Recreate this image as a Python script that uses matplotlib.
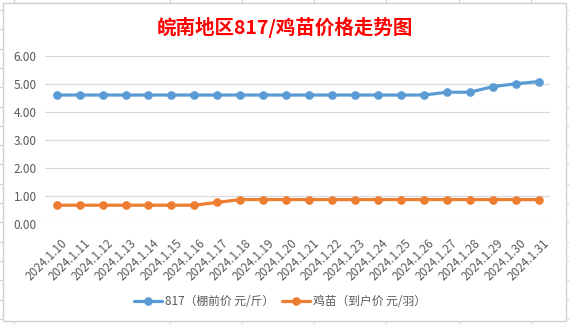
import matplotlib.pyplot as plt
import matplotlib.transforms as mtransforms
from matplotlib.patches import Rectangle
import numpy as np

plt.rcParams['font.family'] = ['Noto Sans CJK SC', 'DejaVu Sans']

W, H, DPI = 569, 324, 100

dates = ["2024.1.%d" % d for d in range(10, 32)]
price_817 = [4.6] * 17 + [4.7, 4.7, 4.9, 5.0, 5.08]
price_chick = [0.68] * 7 + [0.78] + [0.88] * 14

title = "皖南地区817/鸡苗价格走势图"
label_817 = "817（棚前价 元/斤）"
label_chick = "鸡苗（到户价 元/羽）"

BLUE = "#5B9BD5"
ORANGE = "#ED7D31"
TEXT = "#595959"
GRID = "#D9D9D9"

fig = plt.figure(figsize=(W / DPI, H / DPI), dpi=DPI)

# spreadsheet cells behind the chart, in pixel coords
bg = fig.add_axes([0, 0, 1, 1], zorder=0)
bg.set_xlim(0, W)
bg.set_ylim(H, 0)
bg.axis("off")
for y in np.arange(10, H, 19.3):
    bg.axhline(y, color="#D4D4D4", lw=0.8)
for x in [14.5, 170, 242, 314, 386, 459, 531]:
    bg.axvline(x, color="#D4D4D4", lw=0.8)
bg.add_patch(Rectangle((3, 3), 563, 318, facecolor="white",
                       edgecolor="#D0D0D0", lw=1.0, zorder=3))

ax = fig.add_axes([45.2 / W, 1 - 224.3 / H, 505 / W, (224.3 - 55.7) / H], zorder=2)
ax.patch.set_alpha(0)
x = np.arange(len(dates))
ax.plot(x, price_817, color=BLUE, lw=2.3, marker="o", ms=5.2, label=label_817,
        solid_capstyle="round")
ax.plot(x, price_chick, color=ORANGE, lw=2.3, marker="o", ms=5.2, label=label_chick,
        solid_capstyle="round")

ax.set_xlim(-0.5, len(dates) - 0.5)
ax.set_ylim(0, 6)
ax.set_yticks(np.arange(0, 6.01, 1))
ax.set_yticklabels(["%.2f" % v for v in np.arange(0, 6.01, 1)])
ax.grid(axis="y", color=GRID, lw=0.9)
ax.set_axisbelow(True)
for s in ["top", "right", "left", "bottom"]:
    ax.spines[s].set_visible(False)
ax.tick_params(axis="y", length=0, pad=6, labelsize=8.5, labelcolor=TEXT)
ax.tick_params(axis="x", length=0, pad=9, labelsize=8.5, labelcolor=TEXT)

ax.set_xticks(x)
ax.set_xticklabels(dates, rotation=45, ha="right", va="top", rotation_mode="anchor")
shift = mtransforms.ScaledTranslation(4 / DPI, 0, fig.dpi_scale_trans)
for lbl in ax.get_xticklabels():
    lbl.set_transform(lbl.get_transform() + shift)

fig.text(284.5 / W, 1 - 27 / H, title, color="#FF0000", fontsize=14,
         fontweight="bold", ha="center", va="center")

fig.legend(loc="center", bbox_to_anchor=(280 / W, 1 - 301.7 / H), ncol=2,
           frameon=False, fontsize=8.5, handlelength=2.4, handletextpad=0.3,
           columnspacing=0.6, labelcolor=TEXT)

fig.savefig("out.png", dpi=DPI)
